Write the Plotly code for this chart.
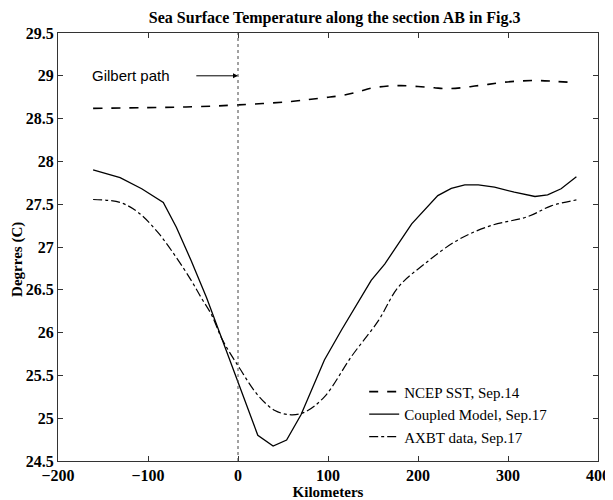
import plotly.graph_objects as go

# NCEP SST, Sep.14 (dashed)
ncep_km = [-161, -89, -44, 0, 59, 96, 115, 133, 148, 167, 181, 200, 218, 233, 248, 263, 278, 296, 315, 333, 352, 374]
ncep_t = [28.62, 28.63, 28.64, 28.66, 28.70, 28.745, 28.77, 28.81, 28.855, 28.88, 28.885, 28.875, 28.86, 28.85, 28.86, 28.88, 28.90, 28.925, 28.94, 28.945, 28.935, 28.92]

# Coupled Model, Sep.17 (solid)
model_km = [-161, -131, -107, -83, -68.5, -52, -35, -18.5, 0, 22, 39, 54, 70, 96, 115, 133, 148, 163, 193, 222, 237, 252, 267, 285, 307, 330, 344, 359, 376]
model_t = [27.90, 27.81, 27.68, 27.52, 27.23, 26.84, 26.41, 25.95, 25.41, 24.80, 24.675, 24.745, 25.04, 25.68, 26.03, 26.34, 26.61, 26.80, 27.27, 27.60, 27.685, 27.725, 27.725, 27.70, 27.64, 27.59, 27.61, 27.68, 27.82]

# AXBT data, Sep.17 (dash-dot)
axbt_km = [-161, -131, -111, -89, -70, -52, -41, -30, -17, 2, 22, 41, 59, 74, 96, 126, 156, 178, 207, 244, 281, 322, 348, 376]
axbt_t = [27.555, 27.52, 27.405, 27.17, 26.90, 26.61, 26.41, 26.22, 25.91, 25.58, 25.27, 25.09, 25.04, 25.07, 25.25, 25.72, 26.14, 26.53, 26.80, 27.08, 27.25, 27.355, 27.48, 27.55]

gilbert_km = 0
gilbert_label = "Gilbert path"
gilbert_label_km = -73
gilbert_label_t = 29.0
arrow_tail_km = -48

x_ticks = [-200, -100, 0, 100, 200, 300, 400]
y_ticks = [24.5, 25, 25.5, 26, 26.5, 27, 27.5, 28, 28.5, 29, 29.5]

serif = "Liberation Serif, Times New Roman, serif"

fig = go.Figure()
fig.add_trace(go.Scatter(x=ncep_km, y=ncep_t, mode="lines", name="NCEP SST, Sep.14",
                         line=dict(color="black", width=1.6, dash="dash", shape="spline")))
fig.add_trace(go.Scatter(x=model_km, y=model_t, mode="lines", name="Coupled Model, Sep.17",
                         line=dict(color="black", width=1.3)))
fig.add_trace(go.Scatter(x=axbt_km, y=axbt_t, mode="lines", name="AXBT data, Sep.17",
                         line=dict(color="black", width=1.2, dash="dashdot", shape="spline")))

fig.add_shape(type="line", xref="x", yref="paper", x0=gilbert_km, x1=gilbert_km, y0=0, y1=1,
              line=dict(color="#444", width=1, dash="dot"))

fig.add_annotation(x=gilbert_km, y=gilbert_label_t, ax=arrow_tail_km, ay=gilbert_label_t,
                   xref="x", yref="y", axref="x", ayref="y", text="", showarrow=True,
                   arrowhead=2, arrowsize=1, arrowwidth=1, arrowcolor="black")
fig.add_annotation(x=gilbert_label_km, y=gilbert_label_t, xref="x", yref="y", text=gilbert_label,
                   showarrow=False, xanchor="right",
                   font=dict(family="Liberation Sans, Arial, sans-serif", size=15, color="black"))

# y-axis label (placed slightly below the axis centre, as in the reference)
fig.add_annotation(x=-0.074, y=0.47, xref="paper", yref="paper", text="<b>Degrres (C)</b>",
                   textangle=-90, showarrow=False, xanchor="center", yanchor="middle",
                   font=dict(family=serif, size=15, color="black"))

axis_common = dict(showgrid=False, zeroline=False, showline=True, linecolor="#333", linewidth=1,
                   mirror="ticks", ticks="inside", ticklen=5, tickcolor="#333", automargin=False,
                   tickfont=dict(family=serif, size=16, color="black"))

fig.update_xaxes(range=[-200, 400], tickvals=x_ticks,
                 ticktext=[f"<b>{str(v).replace('-', chr(8722))}</b>" for v in x_ticks],
                 title=dict(text="<b>Kilometers</b>", font=dict(family=serif, size=15, color="black"), standoff=0),
                 **axis_common)
fig.update_yaxes(range=[24.5, 29.5], tickvals=y_ticks, ticktext=[f"<b>{v:g}</b>" for v in y_ticks],
                 **axis_common)

# the page body adds an 8px margin, so the figure is sized to fill the rest of the window
fig.update_layout(
    width=605, height=492,
    margin=dict(l=50, r=15, t=25, b=39),
    paper_bgcolor="white", plot_bgcolor="white",
    title=dict(text="<b>Sea Surface Temperature along the section AB in Fig.3</b>",
               x=0.54, xanchor="center", y=0.98, yanchor="middle",
               font=dict(family=serif, size=16, color="black")),
    legend=dict(x=0.567, y=0.2, xanchor="left", yanchor="top", bgcolor="rgba(0,0,0,0)",
                font=dict(family=serif, size=15, color="black"), tracegroupgap=0,
                itemwidth=30),
    showlegend=True,
)

fig.write_html("out.html")
